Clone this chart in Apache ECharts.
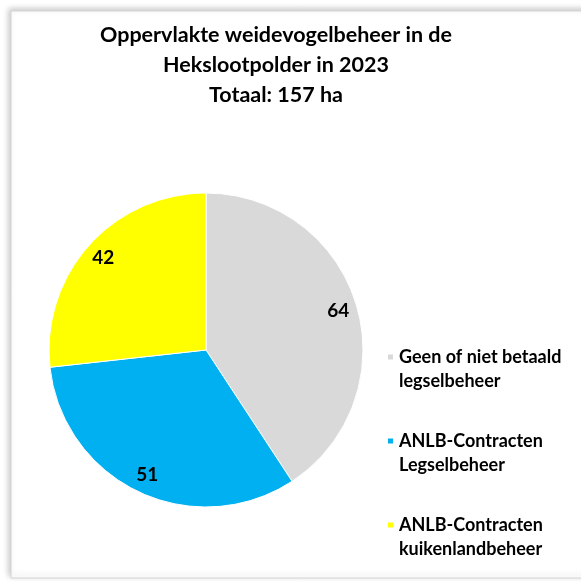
<!DOCTYPE html>
<html>
<head>
<meta charset="utf-8">
<script src="https://cdn.jsdelivr.net/npm/echarts@6/dist/echarts.min.js"></script>
<style>
  html, body { margin: 0; padding: 0; background: #fff; }
  #chart { width: 581px; height: 582px; }
</style>
</head>
<body>
<div id="chart"></div>
<script>
const categories = [
  'Geen of niet betaald\nlegselbeheer',
  'ANLB-Contracten\nLegselbeheer',
  'ANLB-Contracten\nkuikenlandbeheer',
];
const hectares = [64, 51, 42];
const colors = ['#d9d9d9', '#00b0f0', '#ffff00'];
const titleLines = ['Oppervlakte weidevogelbeheer in de', 'Hekslootpolder in 2023', 'Totaal: 157 ha'];

const font = 'Lato';
const pieData = categories.map((name, i) => ({
  name: name,
  value: hectares[i],
  itemStyle: { color: colors[i] },
}));

const chart = echarts.init(document.getElementById('chart'), null, { width: 581, height: 582 });
chart.setOption({
  animation: false,
  textStyle: { fontFamily: font },
  title: {
    text: titleLines.join('\n'),
    left: 271,
    top: 15,
    textAlign: 'center',
    textStyle: {
      fontFamily: font,
      fontSize: 21.5,
      fontWeight: 'bold',
      color: '#000',
      lineHeight: 30,
    },
  },
  graphic: [
    {
      type: 'rect',
      z: -10,
      shape: { x: 11, y: 11, width: 620, height: 567 },
      style: {
        fill: '#fff',
        stroke: '#d4d4d4',
        lineWidth: 1,
        shadowColor: 'rgba(0,0,0,0.22)',
        shadowBlur: 6,
        shadowOffsetX: -2,
        shadowOffsetY: -2,
      },
    },
  ],
  legend: {
    orient: 'vertical',
    left: 381,
    top: 316,
    height: 262,
    itemWidth: 7,
    itemHeight: 7,
    itemGap: 12,
    icon: 'rect',
    data: categories,
    selectedMode: false,
    // leading empty line puts the marker beside the first text line
    formatter: (name) => '\n' + name,
    textStyle: {
      fontFamily: font,
      fontSize: 18,
      fontWeight: 'bold',
      color: '#000',
      lineHeight: 24,
    },
  },
  series: [
    {
      type: 'pie',
      center: [206, 350],
      radius: [0, 157],
      startAngle: 90,
      clockwise: true,
      label: { show: false },
      labelLine: { show: false },
      itemStyle: { borderColor: '#fff', borderWidth: 1 },
      emphasis: { disabled: true },
      data: pieData,
    },
    {
      // transparent ring only used to place the value labels near the rim
      type: 'pie',
      silent: true,
      center: [206, 350],
      radius: [113, 157],
      startAngle: 90,
      clockwise: true,
      itemStyle: { color: 'rgba(0,0,0,0)' },
      label: {
        show: true,
        position: 'inside',
        formatter: '{c}',
        fontFamily: font,
        fontSize: 19,
        fontWeight: 'bold',
        color: '#000',
      },
      labelLine: { show: false },
      emphasis: { disabled: true },
      data: categories.map((name, i) => ({ name: name, value: hectares[i] })),
    },
  ],
});
</script>
</body>
</html>
